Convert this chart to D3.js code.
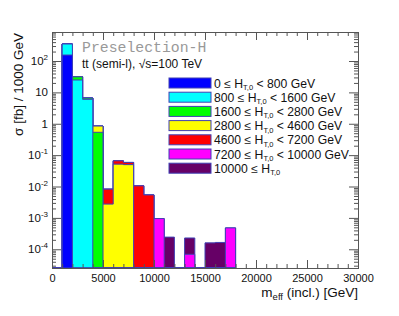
<!DOCTYPE html>
<html>
<head>
<meta charset="utf-8">
<script src="https://cdn.jsdelivr.net/npm/d3@7"></script>
<style>
body { margin: 0; background: #fff; }
text { font-family: "Liberation Sans", Arial, sans-serif; }
</style>
</head>
<body>
<div id="chart"></div>
<script>
// bin lower edges (GeV), bin width 1000
const binLow = [1000, 2000, 3000, 4000, 5000, 6000, 7000, 8000, 9000, 10000, 11000, 12000, 13000, 14000, 15000, 16000, 17000]
const binWidth = 1000

// stacked contributions per H_T,0 category (fb / 1000 GeV)
const ht0_800 = [155, 0, 0, 0, 0, 0, 0, 0, 0, 0, 0, 0, 0, 0, 0, 0, 0]
const ht800_1600 = [193, 24.8, 6.0, 0, 0, 0, 0, 0, 0, 0, 0, 0, 0, 0, 0, 0, 0]
const ht1600_2800 = [0, 6.5, 0.6, 0.535, 0, 0, 0, 0, 0, 0, 0, 0, 0, 0, 0, 0, 0]
const ht2800_4600 = [0, 0, 0, 0.31, 0.00275, 0.0517, 0.0498, 0, 0, 0, 0, 0, 0, 0, 0, 0, 0]
const ht4600_7200 = [0, 0, 0, 0, 0.0055, 0.0141, 0.0087, 0.0105, 0.0054, 0, 0, 0, 0, 0, 0, 0, 0]
const ht7200_10000 = [0, 0, 0, 0, 0, 0, 0, 0, 0, 0.00095, 0, 0, 0.000069, 0, 0, 0, 0.00048]
const ht10000 = [0, 0, 0, 0, 0, 0, 0, 0, 0, 0, 0.000244, 0, 0.00016, 0, 0.00016, 0.000165, 0]

const seriesNames = ['0 \u2264 H|T,0| < 800 GeV', '800 \u2264 H|T,0| < 1600 GeV', '1600 \u2264 H|T,0| < 2800 GeV',
    '2800 \u2264 H|T,0| < 4600 GeV', '4600 \u2264 H|T,0| < 7200 GeV', '7200 \u2264 H|T,0| < 10000 GeV', '10000 \u2264 H|T,0|']
const seriesColors = ['#0000ff', '#00ffff', '#00ff00', '#ffff00', '#ff0000', '#ff00ff', '#660066']
const series = [ht0_800, ht800_1600, ht1600_2800, ht2800_4600, ht4600_7200, ht7200_10000, ht10000]

const xTicksMajor = [0, 5000, 10000, 15000, 20000, 25000, 30000]
const yDecades = [1e-4, 1e-3, 1e-2, 1e-1, 1, 10, 100]
const yLabels = ['10|-4', '10|-3', '10|-2', '10|-1', '1', '10', '10|2']

let svgWidth = 399
let svgHeight = 316
let frame = { 'left': 52, 'right': 358, 'top': 32, 'bottom': 268 }
let outline = '#4040b4'
let axisColor = '#555'

let svg = d3.select('#chart').append('svg')
    .attr('width', svgWidth)
    .attr('height', svgHeight)

let x = d3.scaleLinear()
    .domain([0, 30000])
    .range([frame.left, frame.right])
let y = d3.scaleLog()
    .domain([2.53e-5, 840])
    .range([frame.bottom, frame.top])
    .clamp(true)

svg.append('clipPath').attr('id', 'clip')
    .append('rect')
    .attr('x', frame.left).attr('y', frame.top)
    .attr('width', frame.right - frame.left).attr('height', frame.bottom - frame.top)

// cumulative stacks, drawn from the total downwards (ROOT THStack style)
let cumul = []
let run = binLow.map(() => 0)
series.forEach(s => {
    run = run.map((v, i) => v + s[i])
    cumul.push(run.slice())
})

let area = d3.area()
    .x(d => x(d.e))
    .y0(frame.bottom)
    .y1(d => d.v > 0 ? y(d.v) : frame.bottom)
    .curve(d3.curveStepAfter)

let hist = svg.append('g').attr('clip-path', 'url(#clip)')
for (let k = cumul.length - 1; k >= 0; k--) {
    let pts = binLow.map((e, i) => ({ e: e, v: cumul[k][i] }))
    pts.unshift({ e: 0, v: 0 })
    pts.push({ e: binLow[binLow.length - 1] + binWidth, v: 0 })
    hist.append('path')
        .datum(pts)
        .attr('d', area)
        .attr('fill', seriesColors[k])
        .attr('stroke', outline)
        .attr('stroke-width', 1)
}

// axes
let xMinor = d3.range(0, 30001, 1000).filter(v => v % 5000 != 0)
let yMinor = []
yDecades.concat([1e-5]).forEach(d => {
    for (let m = 2; m <= 9; m++) {
        let v = d * m
        if (v >= y.domain()[0] && v <= y.domain()[1]) yMinor.push(v)
    }
})

function styleAxis(g) {
    g.select('.domain').attr('stroke', axisColor)
    g.selectAll('.tick line').attr('stroke', axisColor)
}

svg.append('g')
    .attr('transform', `translate(0, ${frame.bottom})`)
    .call(d3.axisBottom(x).tickValues(xTicksMajor).tickSize(-8).tickPadding(4).tickFormat(d => d))
    .call(styleAxis)
    .call(g => g.selectAll('text').attr('font-size', 11).attr('fill', '#111')
        .style('font-family', '"Liberation Sans", Arial, sans-serif').attr('dy', '0.95em'))
svg.append('g')
    .attr('transform', `translate(0, ${frame.bottom})`)
    .call(d3.axisBottom(x).tickValues(xMinor).tickSize(-4).tickFormat(''))
    .call(styleAxis)
svg.append('g')
    .attr('transform', `translate(0, ${frame.top})`)
    .call(d3.axisTop(x).tickValues(xTicksMajor).tickSize(-8).tickFormat(''))
    .call(styleAxis)
svg.append('g')
    .attr('transform', `translate(0, ${frame.top})`)
    .call(d3.axisTop(x).tickValues(xMinor).tickSize(-4).tickFormat(''))
    .call(styleAxis)

svg.append('g')
    .attr('transform', `translate(${frame.left}, 0)`)
    .call(d3.axisLeft(y).tickValues(yDecades).tickSize(-9).tickPadding(4).tickFormat(''))
    .call(styleAxis)
svg.append('g')
    .attr('transform', `translate(${frame.left}, 0)`)
    .call(d3.axisLeft(y).tickValues(yMinor).tickSize(-4).tickFormat(''))
    .call(styleAxis)
svg.append('g')
    .attr('transform', `translate(${frame.right}, 0)`)
    .call(d3.axisRight(y).tickValues(yDecades).tickSize(-9).tickFormat(''))
    .call(styleAxis)
svg.append('g')
    .attr('transform', `translate(${frame.right}, 0)`)
    .call(d3.axisRight(y).tickValues(yMinor).tickSize(-4).tickFormat(''))
    .call(styleAxis)

// y tick labels with superscripts
yDecades.forEach((d, i) => {
    let parts = yLabels[i].split('|')
    let t = svg.append('text')
        .attr('x', 48)
        .attr('y', y(d) + 4)
        .attr('text-anchor', 'end')
        .attr('font-size', 11.5)
        .attr('fill', '#111')
    t.append('tspan').text(parts[0])
    if (parts.length > 1) {
        t.append('tspan').attr('dy', -5).attr('font-size', 8).text(parts[1])
    }
})

// axis titles
let xt = svg.append('text')
    .attr('x', frame.right)
    .attr('y', 297)
    .attr('text-anchor', 'end')
    .attr('font-size', 13.5)
    .attr('fill', '#111')
xt.append('tspan').text('m')
xt.append('tspan').attr('dy', 3).attr('font-size', 9.5).text('eff')
xt.append('tspan').attr('dy', -3).text(' (incl.) [GeV]')

svg.append('text')
    .attr('transform', `translate(23, ${frame.top + 1}) rotate(-90)`)
    .attr('text-anchor', 'end')
    .attr('font-size', 13.5)
    .attr('fill', '#111')
    .text('\u03c3 [fb] / 1000 GeV')

// labels
svg.append('text')
    .attr('x', 82)
    .attr('y', 52)
    .style('font-family', '"Liberation Mono", "DejaVu Sans Mono", monospace')
    .attr('font-size', 14.8)
    .attr('fill', '#999')
    .text('Preselection-H')
svg.append('text')
    .attr('x', 82)
    .attr('y', 68)
    .attr('font-size', 12)
    .attr('fill', '#111')
    .text('tt (semi-l), \u221as=100 TeV')

// legend
let legend = svg.append('g')
seriesNames.forEach((name, i) => {
    let cy = 83 + i * 14.2
    legend.append('rect')
        .attr('x', 169)
        .attr('y', cy - 5)
        .attr('width', 42)
        .attr('height', 10)
        .attr('fill', seriesColors[i])
        .attr('stroke', outline)
        .attr('stroke-width', 1)
    let parts = name.split('|')
    let t = legend.append('text')
        .attr('x', 214)
        .attr('y', cy + 4.5)
        .attr('font-size', 12.2)
        .attr('fill', '#111')
    t.append('tspan').text(parts[0])
    t.append('tspan').attr('dy', 2.5).attr('font-size', 7.5).text(parts[1])
    if (parts[2]) t.append('tspan').attr('dy', -2.5).text(parts[2])
})
</script>
</body>
</html>
